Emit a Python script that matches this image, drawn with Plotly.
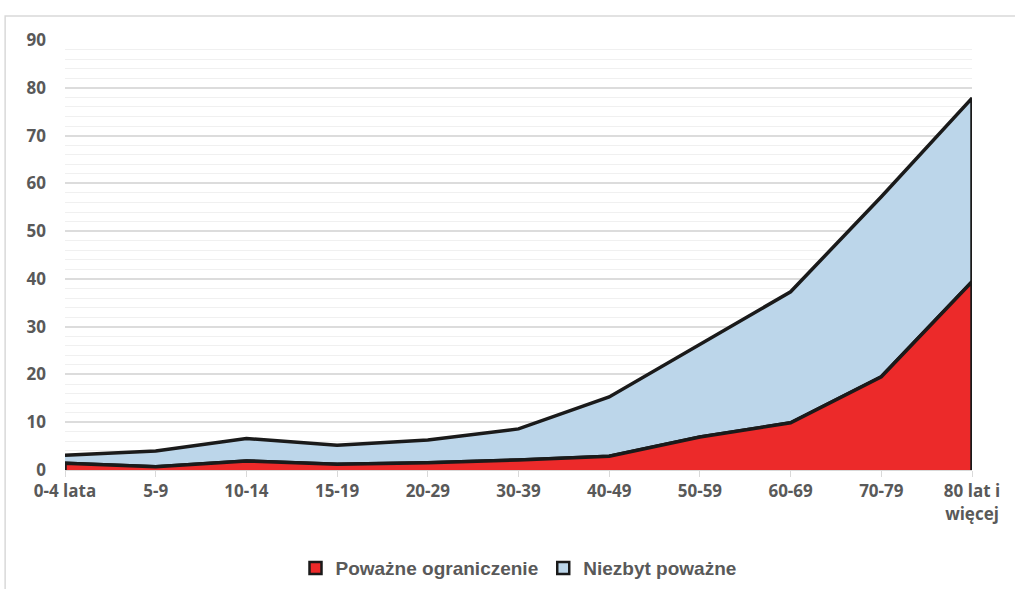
import plotly.graph_objects as go

categories = ["0-4 lata", "5-9", "10-14", "15-19", "20-29", "30-39", "40-49",
              "50-59", "60-69", "70-79", "80 lat i<br>więcej"]
powazne = [1.4, 0.7, 1.9, 1.2, 1.5, 2.1, 2.9, 6.9, 9.9, 19.5, 39.4]
niezbyt = [1.7, 3.3, 4.7, 4.0, 4.8, 6.5, 12.4, 19.3, 27.4, 37.7, 38.4]
name_red = "Poważne ograniczenie"
name_blue = "Niezbyt poważne"
color_red = "#ec2a2a"
color_blue = "#bcd6ea"

total = [a + b for a, b in zip(powazne, niezbyt)]

fig = go.Figure()

# blue band: top line forward, red line back
fig.add_trace(go.Scatter(
    x=categories + categories[::-1],
    y=total + powazne[::-1],
    fill="toself", fillcolor=color_blue,
    line=dict(color="#1a1a1a", width=3.5),
    mode="lines", name=name_blue, hoverinfo="skip", showlegend=False,
))
# red area with vertical edges
fig.add_trace(go.Scatter(
    x=[categories[0]] + categories + [categories[-1]],
    y=[0] + powazne + [0],
    fill="tozeroy", fillcolor=color_red,
    line=dict(color="#1a1a1a", width=3.5),
    mode="lines", name=name_red, hoverinfo="skip", showlegend=False,
))
# legend entries with square swatches
for nm, col in [(name_red, color_red), (name_blue, color_blue)]:
    fig.add_trace(go.Scatter(
        x=[None], y=[None], mode="markers", name=nm,
        marker=dict(symbol="square", size=12, color=col,
                    line=dict(color="#1a1a1a", width=2.5)),
    ))

font_ticks = dict(family="Open Sans", size=17, color="#595959", weight="bold")

fig.update_layout(
    width=1015, height=589,
    margin=dict(l=65, r=43, t=40, b=119, autoexpand=False),
    paper_bgcolor="white", plot_bgcolor="white",
    showlegend=True,
    legend=dict(orientation="h", x=0.5, xanchor="center", y=-0.228, yanchor="middle",
                font=dict(family="Liberation Sans", size=19, color="#595959", weight="bold"),
                itemwidth=30, tracegroupgap=0),
    xaxis=dict(type="category", categoryorder="array", categoryarray=categories,
               range=[0, 10], showgrid=False, showline=True, linecolor="#d9d9d9",
               linewidth=1, ticks="outside", ticklen=6, tickcolor="#d9d9d9",
               tickfont=font_ticks, zeroline=False, automargin=False),
    yaxis=dict(range=[0, 90], dtick=10, showgrid=True, gridcolor="#dcdcdc",
               gridwidth=1.5, zeroline=False, showline=False, tickfont=font_ticks,
               ticks="", ticklabelstandoff=18, automargin=False,
               minor=dict(dtick=2, showgrid=True, gridcolor="#f0f0f0", gridwidth=1)),
    shapes=[dict(type="rect", xref="paper", yref="paper",
                 x0=-0.066, x1=1.06, y0=-0.3, y1=1.056,
                 line=dict(color="#d9d9d9", width=1.5), fillcolor="rgba(0,0,0,0)",
                 layer="below")],
)

fig.write_html("out.html", config={"displayModeBar": False},
               post_script="document.body.style.margin='0';document.body.style.overflow='hidden';")
